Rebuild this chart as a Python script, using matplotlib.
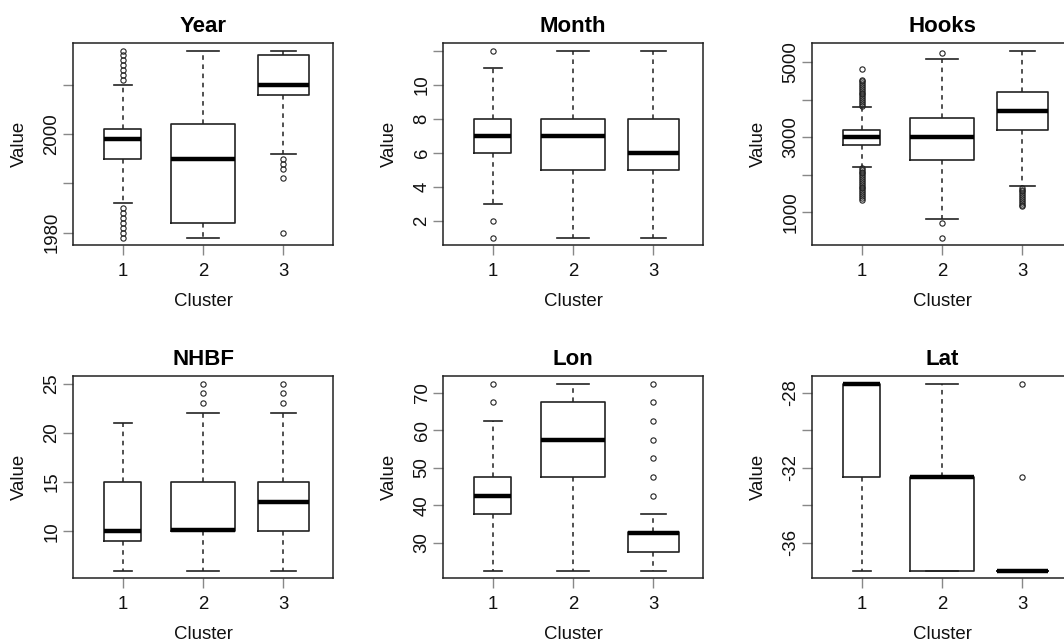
import matplotlib
matplotlib.use("Agg")
import matplotlib.pyplot as plt

plt.rcParams['font.family'] = ['Liberation Sans', 'DejaVu Sans']

CLUSTERS = [1, 2, 3]

# ---- Year ----
YEAR_LO = [1986, 1979, 1996]
YEAR_Q1 = [1995, 1982, 2008]
YEAR_MED = [1999, 1995, 2010]
YEAR_Q3 = [2001, 2002, 2016]
YEAR_HI = [2010, 2017, 2017]
YEAR_OUT = [[1979, 1980, 1981, 1982, 1983, 1984, 1985,
             2011, 2012, 2013, 2014, 2015, 2016, 2017],
            [],
            [1980, 1991, 1993, 1994, 1995]]
YEAR_TICKS = [1980, 1990, 2000, 2010]
YEAR_LABELS = ['1980', '', '2000', '']

# ---- Month ----
MONTH_LO = [3, 1, 1]
MONTH_Q1 = [6, 5, 5]
MONTH_MED = [7, 7, 6]
MONTH_Q3 = [8, 8, 8]
MONTH_HI = [11, 12, 12]
MONTH_OUT = [[1, 2, 12], [], []]
MONTH_TICKS = [2, 4, 6, 8, 10, 12]
MONTH_LABELS = ['2', '4', '6', '8', '10', '']

# ---- Hooks ----
HOOKS_LO = [2200, 810, 1690]
HOOKS_Q1 = [2800, 2380, 3190]
HOOKS_MED = [3010, 3010, 3700]
HOOKS_Q3 = [3190, 3520, 4210]
HOOKS_HI = [3800, 5090, 5310]
HOOKS_OUT = [[1330, 1380, 1430, 1480, 1530, 1580, 1630, 1680, 1730, 1780,
              1830, 1880, 1930, 1980, 2030, 2080, 2130, 2170,
              3840, 3890, 3940, 3990, 4040, 4090, 4140, 4190, 4240, 4290,
              4340, 4390, 4440, 4490, 4530, 4820],
             [320, 700, 5240],
             [1150, 1200, 1250, 1300, 1350, 1400, 1450, 1500, 1550, 1600, 1650]]
HOOKS_TICKS = [1000, 2000, 3000, 4000, 5000]
HOOKS_LABELS = ['1000', '', '3000', '', '5000']

# ---- NHBF ----
NHBF_LO = [6, 6, 6]
NHBF_Q1 = [9, 10, 10]
NHBF_MED = [10, 10.1, 13]
NHBF_Q3 = [15, 15, 15]
NHBF_HI = [21, 22, 22]
NHBF_OUT = [[], [23, 24, 25], [23, 24, 25]]
NHBF_TICKS = [10, 15, 20, 25]
NHBF_LABELS = ['10', '15', '20', '25']

# ---- Lon ----
LON_LO = [22.5, 22.5, 22.5]
LON_Q1 = [37.5, 47.5, 27.5]
LON_MED = [42.5, 57.5, 32.5]
LON_Q3 = [47.5, 67.5, 32.7]
LON_HI = [62.5, 72.5, 37.5]
LON_OUT = [[67.5, 72.5], [], [42.5, 47.5, 52.5, 57.5, 62.5, 67.5, 72.5]]
LON_TICKS = [30, 40, 50, 60, 70]
LON_LABELS = ['30', '40', '50', '60', '70']

# ---- Lat ----
LAT_LO = [-37.5, -37.5, -37.5]
LAT_Q1 = [-32.5, -37.5, -37.5]
LAT_MED = [-27.5, -32.5, -37.5]
LAT_Q3 = [-27.5, -32.5, -37.5]
LAT_HI = [-27.5, -27.5, -37.5]
LAT_OUT = [[], [], [-32.5, -27.5]]
LAT_TICKS = [-36, -34, -32, -30, -28]
LAT_LABELS = ['-36', '', '-32', '', '-28']

PANELS = [
    ("Year", YEAR_LO, YEAR_Q1, YEAR_MED, YEAR_Q3, YEAR_HI, YEAR_OUT, YEAR_TICKS, YEAR_LABELS),
    ("Month", MONTH_LO, MONTH_Q1, MONTH_MED, MONTH_Q3, MONTH_HI, MONTH_OUT, MONTH_TICKS, MONTH_LABELS),
    ("Hooks", HOOKS_LO, HOOKS_Q1, HOOKS_MED, HOOKS_Q3, HOOKS_HI, HOOKS_OUT, HOOKS_TICKS, HOOKS_LABELS),
    ("NHBF", NHBF_LO, NHBF_Q1, NHBF_MED, NHBF_Q3, NHBF_HI, NHBF_OUT, NHBF_TICKS, NHBF_LABELS),
    ("Lon", LON_LO, LON_Q1, LON_MED, LON_Q3, LON_HI, LON_OUT, LON_TICKS, LON_LABELS),
    ("Lat", LAT_LO, LAT_Q1, LAT_MED, LAT_Q3, LAT_HI, LAT_OUT, LAT_TICKS, LAT_LABELS),
]

# box widths (varwidth look) and panel rectangles in figure fractions
BOX_WIDTHS = [0.46, 0.8, 0.63]
COL_LEFT = [0.0686, 0.4164, 0.7632]
ROW_BOTTOM = [0.619, 0.101]
AX_W = 0.2444
AX_H = 0.314

EDGE = '#222222'
TICK_COLOR = '#888888'

fig = plt.figure(figsize=(10.64, 6.43), dpi=100)

for i, (title, lo, q1, med, q3, hi, out, ticks, labels) in enumerate(PANELS):
    ax = fig.add_axes([COL_LEFT[i % 3], ROW_BOTTOM[i // 3], AX_W, AX_H])
    stats = []
    for k in range(3):
        stats.append({'whislo': lo[k], 'q1': q1[k], 'med': med[k], 'q3': q3[k],
                      'whishi': hi[k], 'fliers': out[k]})
    ax.bxp(stats, positions=CLUSTERS, widths=BOX_WIDTHS, showfliers=True,
           boxprops=dict(color=EDGE, linewidth=1.2),
           medianprops=dict(color='black', linewidth=3.2, solid_capstyle='butt'),
           whiskerprops=dict(color=EDGE, linewidth=1.1, linestyle=(0, (3, 3))),
           capprops=dict(color=EDGE, linewidth=1.2),
           capwidths=[w * 0.5 for w in BOX_WIDTHS],
           flierprops=dict(marker='o', markersize=3.8, markerfacecolor='none',
                           markeredgecolor=EDGE, markeredgewidth=0.8, linestyle='none'))

    # R style limits: data range padded by 4%
    vals = lo + hi + [v for grp in out for v in grp]
    vmin, vmax = min(vals), max(vals)
    pad = (vmax - vmin) * 0.04
    ax.set_ylim(vmin - pad, vmax + pad)
    ax.set_xlim(0.38, 3.62)

    ax.set_xticks(CLUSTERS)
    ax.set_xticklabels([str(c) for c in CLUSTERS])
    ax.set_yticks(ticks)
    ax.set_yticklabels(labels, rotation=90, va='center')
    ax.tick_params(axis='both', length=7, width=1, color=TICK_COLOR,
                   labelsize=13.4, labelcolor='#111111')
    ax.tick_params(axis='x', pad=6)
    ax.tick_params(axis='y', pad=2)

    for s in ax.spines.values():
        s.set_color(EDGE)
        s.set_linewidth(1.1)

    ax.set_title(title, fontsize=16, fontweight='bold', pad=8)
    ax.set_xlabel("Cluster", fontsize=13.4, labelpad=9.5, color='#111111')
    ax.set_ylabel("Value", fontsize=13.4, labelpad=11, color='#111111')

fig.savefig("out.png", dpi=100)
